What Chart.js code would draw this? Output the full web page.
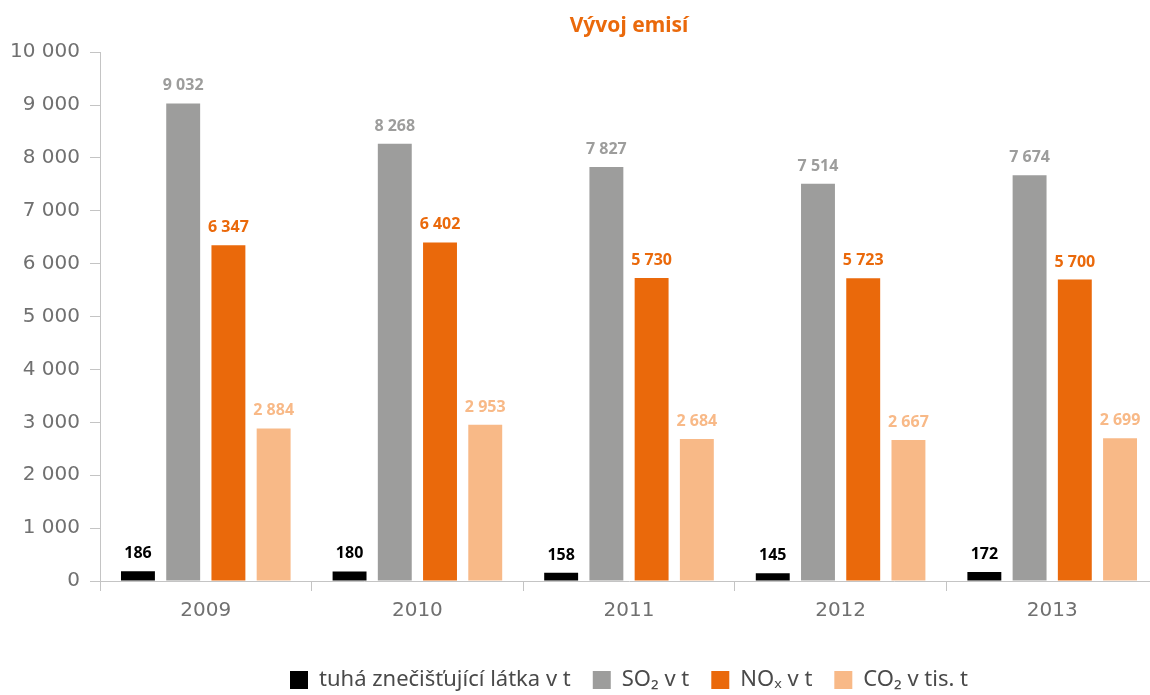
<!DOCTYPE html>
<html>
<head>
<meta charset="utf-8">
<script src="https://cdn.jsdelivr.net/npm/chart.js@4/dist/chart.umd.min.js"></script>
<style>
  html, body { margin: 0; padding: 0; background: #ffffff; overflow: hidden; }
  #wrap { position: relative; width: 1150px; height: 695px; overflow: hidden; }
  #box { position: absolute; left: 0; top: 0; width: 1160px; height: 701px; }
</style>
</head>
<body>
<div id="wrap"><div id="box"><canvas id="c"></canvas></div></div>
<script>
const categories = ['2009', '2010', '2011', '2012', '2013'];
const seriesNames = ['tuhá znečišťující látka v t', 'SO\u2082 v t', 'NO\u2093 v t', 'CO\u2082 v tis. t'];
const particulate = [186, 180, 158, 145, 172];
const so2 = [9032, 8268, 7827, 7514, 7674];
const nox = [6347, 6402, 5730, 5723, 5700];
const co2 = [2884, 2953, 2684, 2667, 2699];
const yTicks = [0, 1000, 2000, 3000, 4000, 5000, 6000, 7000, 8000, 9000, 10000];
const chartTitle = 'Vývoj emisí';

const colors = ['#000000', '#9d9d9c', '#ea690b', '#f8b987'];

function fmt(v) {
  return String(v).replace(/\B(?=(\d{3})+(?!\d))/g, ' ');
}

const valueLabels = {
  id: 'valueLabels',
  afterDatasetsDraw(chart) {
    const ctx = chart.ctx;
    ctx.save();
    ctx.font = 'bold 16px "Noto Sans"';
    ctx.textAlign = 'center';
    ctx.textBaseline = 'alphabetic';
    chart.data.datasets.forEach((ds, i) => {
      const meta = chart.getDatasetMeta(i);
      ctx.fillStyle = ds.backgroundColor;
      meta.data.forEach((bar, j) => {
        ctx.fillText(fmt(ds.data[j]), bar.x, bar.y - 13);
      });
    });
    ctx.restore();
  }
};

const seriesData = [particulate, so2, nox, co2];

new Chart(document.getElementById('c'), {
  type: 'bar',
  data: {
    labels: categories,
    datasets: seriesData.map((d, i) => ({
      label: seriesNames[i],
      data: d,
      backgroundColor: colors[i],
      borderWidth: 0,
      categoryPercentage: 0.855,
      barPercentage: 0.75
    }))
  },
  options: {
    responsive: true,
    maintainAspectRatio: false,
    animation: false,
    layout: { padding: { left: 0, right: 2, top: 0, bottom: 0 } },
    plugins: {
      title: {
        display: true,
        text: chartTitle,
        fullSize: false,
        color: '#ea690b',
        font: { family: '"Noto Sans"', size: 21, weight: 'bold' },
        padding: { top: 13, bottom: 14 }
      },
      legend: {
        display: true,
        position: 'bottom',
        fullSize: false,
        labels: {
          boxWidth: 18,
          boxHeight: 18,
          padding: 22,
          color: '#4a4a4a',
          font: { family: '"Noto Sans"', size: 22 }
        }
      },
      tooltip: { enabled: false }
    },
    scales: {
      x: {
        grid: {
          display: true,
          drawOnChartArea: false,
          drawTicks: true,
          tickLength: 10,
          offset: true,
          color: '#c4c4c4'
        },
        border: { display: true, color: '#c4c4c4', width: 1 },
        ticks: {
          color: '#707070',
          padding: 8,
          font: { family: '"DejaVu Sans"', size: 20 }
        },
        afterFit(scale) { scale.height = 66; }
      },
      y: {
        min: 0,
        max: 10000,
        afterBuildTicks(scale) { scale.ticks = yTicks.map(v => ({ value: v })); },
        grid: {
          display: true,
          drawOnChartArea: false,
          drawTicks: true,
          tickLength: 10,
          color: '#c4c4c4'
        },
        border: { display: true, color: '#c4c4c4', width: 1 },
        ticks: {
          color: '#707070',
          padding: 10,
          font: { family: '"DejaVu Sans"', size: 20 },
          callback: (v) => fmt(v)
        },
        afterFit(scale) { scale.width = 100; }
      }
    }
  },
  plugins: [valueLabels]
});
</script>
</body>
</html>
